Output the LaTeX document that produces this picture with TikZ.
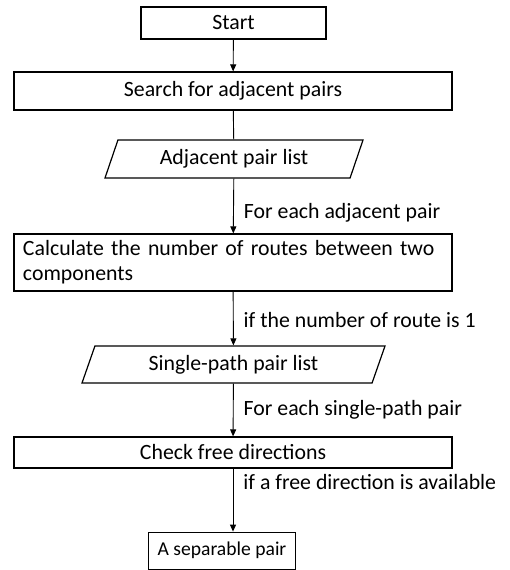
\documentclass[tikz,border=0pt]{standalone}
\usepackage{fontspec}
\setmainfont{Carlito}
\usepackage{tikz}
\usetikzlibrary{shapes,arrows.meta,positioning,calc}

\begin{document}
\begin{tikzpicture}[x=1pt, y=-1pt,
    every node/.style={font=\fontsize{21.8}{25}\selectfont},
    procbox/.style={draw, line width=1.2pt, inner sep=0pt},
    iobox/.style={draw, line width=1.2pt, inner sep=0pt, trapezium, trapezium left angle=55.6, trapezium right angle=124.4, trapezium stretches body},
    flow/.style={line width=0.9pt, -{Triangle[length=7pt,width=6pt]}},
    cond/.style={right=10pt, inner sep=0pt}]
    \useasboundingbox (0,0) rectangle (510,570);
    \node[procbox, minimum width=185pt, minimum height=32pt] (start) at (233.5,23) {Start};
    \node[procbox, minimum width=438pt, minimum height=38pt] (search) at (233,91) {Search for adjacent pairs};
    \node[iobox, minimum width=258pt, minimum height=38pt] (adjlist) at (234,159) {Adjacent pair list};
    \node[procbox, minimum width=438pt, minimum height=57pt, text width=420pt, align=left] (routes) at (233,262.5) {Calculate the number of routes between two\\components};
    \node[iobox, minimum width=303pt, minimum height=37pt] (single) at (233.5,364.5) {Single-path pair list};
    \node[procbox, minimum width=438pt, minimum height=31pt] (check) at (233,452.5) {Check free directions};
    \node[procbox, line width=0.8pt, minimum width=147pt, minimum height=37pt, font=\fontsize{19.6}{23}\selectfont, xshift=1.5pt] (separable) at (220.5,550.5) {A separable pair};
    % connectors
    \draw[flow] (start) -- (search);
    \draw[line width=0.9pt] (search) -- (adjlist);
    \draw[flow] (adjlist) -- (routes) node[pos=0.62, cond] {For each adjacent pair};
    \draw[flow] (routes) -- (single) node[pos=0.53, cond] {if the number of route is 1};
    \draw[flow] (single) -- (check) node[pos=0.5, cond] {For each single-path pair};
    \draw[flow] (check.south) -- (check.south |- separable.north) node[pos=0.22, cond] {if a free direction is available};
\end{tikzpicture}
\end{document}
